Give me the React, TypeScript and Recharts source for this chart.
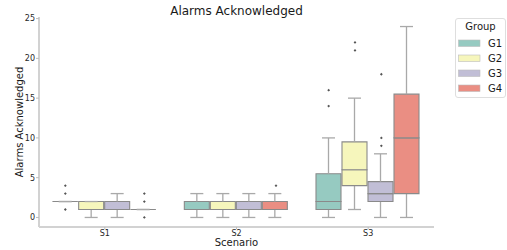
import React from 'react';
import { ComposedChart, Bar, Scatter, XAxis, YAxis } from 'recharts';

const scenarios = ['S1', 'S2', 'S3'];
const groups = ['G1', 'G2', 'G3', 'G4'];
const groupColors = ['#96cac1', '#f6f6bc', '#c1bed6', '#ea8e83'];
// each row: [lower whisker, Q1, median, Q3, upper whisker] for S1, S2, S3
const g1Box = [[2, 2, 2, 2, 2], [0, 1, 1, 2, 3], [0, 1, 2, 5.5, 10]];
const g2Box = [[0, 1, 1, 2, 2], [0, 1, 1, 2, 3], [1, 4, 6, 9.5, 15]];
const g3Box = [[0, 1, 1, 2, 3], [0, 1, 1, 2, 3], [0, 2, 3, 4.5, 8]];
const g4Box = [[1, 1, 1, 1, 1], [0, 1, 1, 2, 3], [0, 3, 10, 15.5, 24]];
// outliers for S1, S2, S3
const g1Outliers = [[1, 3, 4], [], [14, 16]];
const g2Outliers = [[], [], [21, 22]];
const g3Outliers = [[], [], [9, 10, 18]];
const g4Outliers = [[0, 2, 3], [4], []];
const yTicks = [0, 5, 10, 15, 20, 25];

const boxes = [g1Box, g2Box, g3Box, g4Box];
const outliers = [g1Outliers, g2Outliers, g3Outliers, g4Outliers];

const rows = scenarios.map((s, si) => {
  const row: any = { scenario: s };
  boxes.forEach((b, gi) => {
    const [lo, q1, med, q3, hi] = b[si];
    row[`base${gi}`] = lo;
    row[`lw${gi}`] = q1 - lo;
    row[`lb${gi}`] = med - q1;
    row[`ub${gi}`] = q3 - med;
    row[`uw${gi}`] = hi - q3;
  });
  return row;
});

const outlierData = outliers.map((o, gi) =>
  o.flatMap((vals, si) => vals.map((v) => ({ x: si + (gi - 1.5) * 0.2, y: v })))
);

const FONT = 'DejaVu Sans, sans-serif';
const BOX_EDGE = '#8a8a8a';
const WHISKER = '#a9a9a9';

const Nothing = () => null;

const LowerWhisker = (p: any) => {
  const cx = p.x + p.width / 2;
  const cap = p.width / 4;
  const top = Math.min(p.y, p.y + p.height);
  const bottom = Math.max(p.y, p.y + p.height);
  return (
    <g>
      <line x1={cx} x2={cx} y1={top} y2={bottom} stroke={WHISKER} strokeWidth={1.3} />
      <line x1={cx - cap} x2={cx + cap} y1={bottom} y2={bottom} stroke={WHISKER} strokeWidth={1.3} />
    </g>
  );
};

const UpperWhisker = (p: any) => {
  const cx = p.x + p.width / 2;
  const cap = p.width / 4;
  const top = Math.min(p.y, p.y + p.height);
  const bottom = Math.max(p.y, p.y + p.height);
  return (
    <g>
      <line x1={cx} x2={cx} y1={top} y2={bottom} stroke={WHISKER} strokeWidth={1.3} />
      <line x1={cx - cap} x2={cx + cap} y1={top} y2={top} stroke={WHISKER} strokeWidth={1.3} />
    </g>
  );
};

const makeBoxHalf = (color: string) => (p: any) => {
  const inset = 0.5;
  const x0 = p.x + inset;
  const x1 = p.x + p.width - inset;
  const top = Math.min(p.y, p.y + p.height);
  const bottom = Math.max(p.y, p.y + p.height);
  const d = `M${x0},${top} L${x1},${top} L${x1},${bottom} L${x0},${bottom} Z`;
  return <path d={d} fill={color} stroke={BOX_EDGE} strokeWidth={1.1} />;
};

const Diamond = (p: any) => {
  const r = 1.4;
  const { cx, cy } = p;
  return <path d={`M${cx},${cy - r} L${cx + r},${cy} L${cx},${cy + r} L${cx - r},${cy} Z`} fill="#555" />;
};

const YLabel = (props: any) => {
  const vb = props.viewBox || { x: 9, y: 17, width: 30, height: 210 };
  const x = vb.x + 14;
  const y = vb.y + vb.height / 2;
  return (
    <text x={x} y={y} transform={`rotate(-90 ${x} ${y})`} textAnchor="middle" fontSize={10} fontFamily={FONT} fill="#1a1a1a">
      Alarms Acknowledged
    </text>
  );
};

const XLabel = (props: any) => {
  const vb = props.viewBox || { x: 39, y: 227, width: 395, height: 23 };
  const x = vb.x + vb.width / 2;
  const y = vb.y + vb.height - 4;
  return (
    <text x={x} y={y} textAnchor="middle" fontSize={10} fontFamily={FONT} fill="#1a1a1a">
      Scenario
    </text>
  );
};

export default function App() {
  const legendTop = 18.5;
  return (
    <div style={{ position: 'absolute', left: 0, top: 0, width: 507, height: 250, background: '#fff' }}>
      <ComposedChart
        width={507}
        height={250}
        data={rows}
        margin={{ top: 17, right: 73, bottom: 0, left: 9 }}
        barCategoryGap="10%"
        barGap={0}
      >
        <XAxis
          xAxisId="cat"
          dataKey="scenario"
          height={23}
          tickSize={2}
          tickMargin={1}
          interval={0}
          tick={{ fontSize: 8, fill: '#262626', fontFamily: FONT }}
          axisLine={{ stroke: '#d2d2d2', strokeWidth: 2 }}
          tickLine={{ stroke: '#bdbdbd' }}
          label={<XLabel />}
        />
        <XAxis xAxisId="num" type="number" dataKey="x" domain={[-0.5, 2.5]} allowDataOverflow hide />
        <XAxis
          xAxisId="top"
          orientation="top"
          dataKey="scenario"
          height={0}
          tick={false}
          tickLine={false}
          axisLine={{ stroke: '#c4c4c4', strokeWidth: 1 }}
        />
        <YAxis
          type="number"
          domain={[-1.2, 25.2]}
          allowDataOverflow
          ticks={yTicks}
          width={30}
          tickSize={3}
          tickMargin={1}
          tick={{ fontSize: 8, fill: '#262626', fontFamily: FONT }}
          axisLine={{ stroke: '#d2d2d2', strokeWidth: 2 }}
          tickLine={{ stroke: '#bdbdbd' }}
          label={<YLabel />}
        />
        <YAxis
          yAxisId="right"
          orientation="right"
          width={0}
          tick={false}
          tickLine={false}
          axisLine={{ stroke: '#c4c4c4', strokeWidth: 1 }}
        />
        {groups.map((g, gi) => [
          <Bar key={`b${gi}`} xAxisId="cat" dataKey={`base${gi}`} stackId={`s${gi}`} shape={Nothing} isAnimationActive={false} legendType="none" />,
          <Bar key={`lw${gi}`} xAxisId="cat" dataKey={`lw${gi}`} stackId={`s${gi}`} shape={LowerWhisker} isAnimationActive={false} legendType="none" />,
          <Bar key={`lb${gi}`} xAxisId="cat" dataKey={`lb${gi}`} stackId={`s${gi}`} shape={makeBoxHalf(groupColors[gi])} isAnimationActive={false} legendType="none" />,
          <Bar key={`ub${gi}`} xAxisId="cat" dataKey={`ub${gi}`} stackId={`s${gi}`} shape={makeBoxHalf(groupColors[gi])} isAnimationActive={false} legendType="none" />,
          <Bar key={`uw${gi}`} xAxisId="cat" dataKey={`uw${gi}`} stackId={`s${gi}`} shape={UpperWhisker} isAnimationActive={false} legendType="none" />,
        ])}
        {groups.map((g, gi) => (
          <Scatter key={`o${gi}`} name={g} xAxisId="num" data={outlierData[gi]} dataKey="y" shape={Diamond} isAnimationActive={false} />
        ))}
      </ComposedChart>
      <svg width={507} height={250} style={{ position: 'absolute', left: 0, top: 0, pointerEvents: 'none' }}>
        <text x={236.5} y={14.5} textAnchor="middle" fontSize={12} fontFamily={FONT} fill="#1a1a1a">
          Alarms Acknowledged
        </text>
        <rect x={455.5} y={legendTop} width={50} height={79} rx={2.5} fill="#fff" stroke="#dedede" strokeWidth={1} />
        <text x={480.5} y={29.5} textAnchor="middle" fontSize={10} fontFamily={FONT} fill="#1a1a1a">
          Group
        </text>
        {groups.map((g, gi) => (
          <g key={g}>
            <rect x={458.5} y={40 + gi * 15} width={21.5} height={6.5} fill={groupColors[gi]} stroke="#bdbdbd" strokeWidth={0.6} />
            <text x={488} y={46.5 + gi * 15} fontSize={10} fontFamily={FONT} fill="#1a1a1a">
              {g}
            </text>
          </g>
        ))}
      </svg>
    </div>
  );
}
